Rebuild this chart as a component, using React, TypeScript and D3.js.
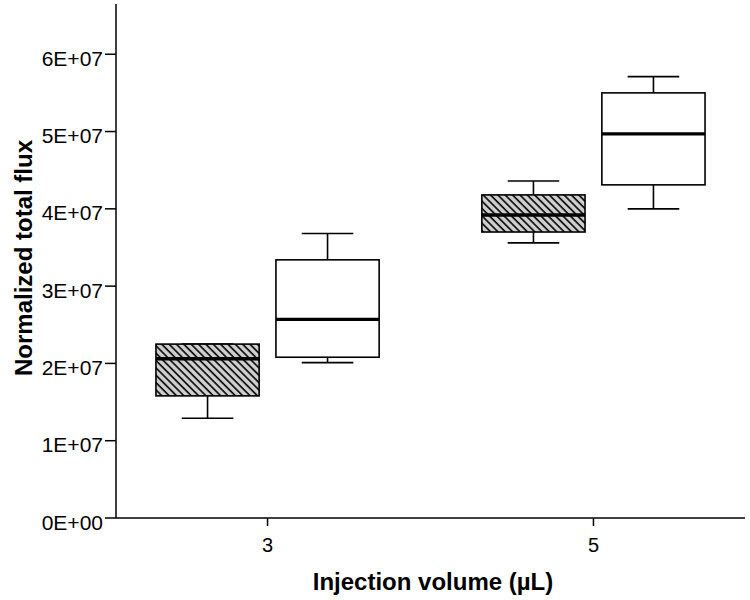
import React from "react";
import * as d3 from "d3";

const categories = ["3", "5"];
const series = ["hatched", "open"];

const hatchedMin = [1.29e7, 3.56e7];
const hatchedQ1 = [1.58e7, 3.70e7];
const hatchedMedian = [2.06e7, 3.92e7];
const hatchedQ3 = [2.25e7, 4.18e7];
const hatchedMax = [2.25e7, 4.36e7];

const openMin = [2.01e7, 4.0e7];
const openQ1 = [2.08e7, 4.31e7];
const openMedian = [2.57e7, 4.97e7];
const openQ3 = [3.34e7, 5.50e7];
const openMax = [3.68e7, 5.71e7];

const yTicks = [0, 1e7, 2e7, 3e7, 4e7, 5e7, 6e7];
const yTickLabels = ["0E+00", "1E+07", "2E+07", "3E+07", "4E+07", "5E+07", "6E+07"];

const xTitle = "Injection volume (µL)";
const yTitle = "Normalized total flux";

export default function App() {
  const W = 750, H = 600;
  const left = 116, right = 745, top = 4, bottom = 518;
  const y = d3.scaleLinear().domain([0, 6.65e7]).range([bottom, top]);
  const x = d3.scalePoint<string>().domain(categories).range([left, right]).padding(0.465);
  const sub = d3.scaleBand<string>().domain(series).range([-120, 120]).padding(0);
  const boxW = sub.bandwidth() * 0.86;
  const capW = boxW / 2;

  const boxes: any[] = [];
  categories.forEach((c, i) => {
    series.forEach((s) => {
      const isH = s === "hatched";
      boxes.push({
        key: c + s,
        cx: (x(c) as number) + (sub(s) as number) + sub.bandwidth() / 2,
        min: isH ? hatchedMin[i] : openMin[i],
        q1: isH ? hatchedQ1[i] : openQ1[i],
        med: isH ? hatchedMedian[i] : openMedian[i],
        q3: isH ? hatchedQ3[i] : openQ3[i],
        max: isH ? hatchedMax[i] : openMax[i],
        fill: isH ? "url(#hatch)" : "#ffffff",
      });
    });
  });

  const font = "'Liberation Sans', Arial, sans-serif";

  return (
    <div style={{ position: "absolute", left: 0, top: 0 }}>
      <svg width={W} height={H} style={{ display: "block", background: "#fff" }}>
        <defs>
          <pattern id="hatch" width={5.2} height={5.2} patternUnits="userSpaceOnUse" patternTransform="rotate(-45)">
            <rect width={5.2} height={5.2} fill="#cfcfcf" />
            <line x1={1} y1={0} x2={1} y2={5.2} stroke="#000" strokeWidth={1.6} />
          </pattern>
        </defs>

        {boxes.map((b) => (
          <g key={b.key} stroke="#000" strokeWidth={1.6} fill="none">
            <line x1={b.cx} x2={b.cx} y1={y(b.max)} y2={y(b.q3)} />
            <line x1={b.cx} x2={b.cx} y1={y(b.q1)} y2={y(b.min)} />
            <line x1={b.cx - capW / 2} x2={b.cx + capW / 2} y1={y(b.max)} y2={y(b.max)} />
            <line x1={b.cx - capW / 2} x2={b.cx + capW / 2} y1={y(b.min)} y2={y(b.min)} />
            <rect x={b.cx - boxW / 2} y={y(b.q3)} width={boxW} height={y(b.q1) - y(b.q3)} fill={b.fill} />
            <line x1={b.cx - boxW / 2} x2={b.cx + boxW / 2} y1={y(b.med)} y2={y(b.med)} strokeWidth={3.4} />
          </g>
        ))}

        {/* Y axis */}
        <line x1={left} x2={left} y1={top} y2={bottom} stroke="#000" strokeWidth={1.5} />
        {yTicks.map((t, i) => (
          <g key={t}>
            <line x1={left - 11} x2={left} y1={y(t)} y2={y(t)} stroke="#000" strokeWidth={1.5} />
            <text x={left - 13} y={y(t) + 11.5} textAnchor="end" fontFamily={font} fontSize={21} fill="#000">
              {yTickLabels[i]}
            </text>
          </g>
        ))}

        {/* X axis */}
        <line x1={left} x2={right} y1={bottom} y2={bottom} stroke="#000" strokeWidth={1.5} />
        {categories.map((c) => (
          <g key={c}>
            <line x1={x(c)} x2={x(c)} y1={bottom} y2={bottom + 8} stroke="#000" strokeWidth={1.5} />
            <text x={x(c)} y={552} textAnchor="middle" fontFamily={font} fontSize={20} fill="#000">
              {c}
            </text>
          </g>
        ))}

        <text x={433} y={590} textAnchor="middle" fontFamily={font} fontSize={24} fontWeight="bold" fill="#000">
          {xTitle}
        </text>
        <text
          transform={`translate(32,258) rotate(-90)`}
          textAnchor="middle"
          fontFamily={font}
          fontSize={24}
          fontWeight="bold"
          fill="#000"
        >
          {yTitle}
        </text>
      </svg>
    </div>
  );
}
